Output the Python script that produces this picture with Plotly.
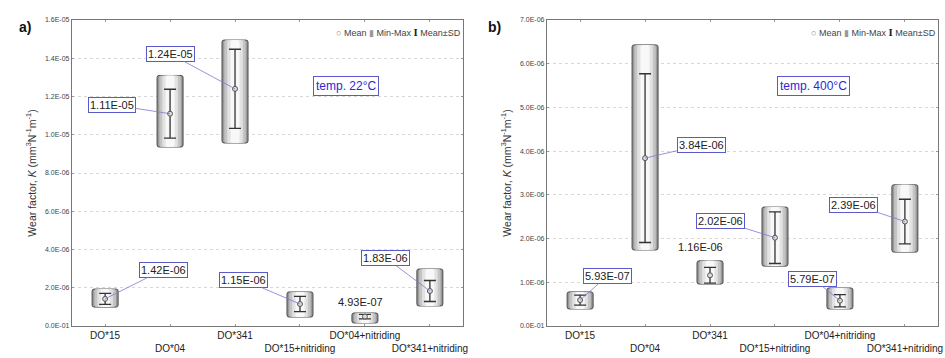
import plotly.graph_objects as go

categories = ["DO*15", "DO*04", "DO*341", "DO*15+nitriding", "DO*04+nitriding", "DO*341+nitriding"]

# Panel a) temp 22 C
mean_22 = [1.42e-6, 1.11e-5, 1.24e-5, 1.15e-6, 4.93e-7, 1.83e-6]
sd_22 = [0.29e-6, 1.28e-6, 2.07e-6, 0.40e-6, 0.12e-6, 0.55e-6]
min_22 = [0.99e-6, 9.36e-6, 9.57e-6, 0.47e-6, 0.16e-6, 1.05e-6]
max_22 = [1.93e-6, 13.1e-6, 14.95e-6, 1.78e-6, 0.68e-6, 2.98e-6]
labels_22 = ["1.42E-06", "1.11E-05", "1.24E-05", "1.15E-06", "4.93E-07", "1.83E-06"]
boxed_22 = [True, True, True, True, False, True]

# Panel b) temp 400 C
mean_400 = [5.93e-7, 3.84e-6, 1.16e-6, 2.02e-6, 5.79e-7, 2.39e-6]
sd_400 = [0.115e-6, 1.93e-6, 0.18e-6, 0.59e-6, 0.14e-6, 0.51e-6]
min_400 = [0.39e-6, 1.74e-6, 0.96e-6, 1.37e-6, 0.39e-6, 1.69e-6]
max_400 = [0.78e-6, 6.43e-6, 1.49e-6, 2.72e-6, 0.87e-6, 3.23e-6]
labels_400 = ["5.93E-07", "3.84E-06", "1.16E-06", "2.02E-06", "5.79E-07", "2.39E-06"]
boxed_400 = [True, True, False, True, True, True]

yticks_22 = [0, 2e-6, 4e-6, 6e-6, 8e-6, 1e-5, 1.2e-5, 1.4e-5, 1.6e-5]
yticktext_22 = ["0.0E-01", "2.0E-06", "4.0E-06", "6.0E-06", "8.0E-06", "1.0E-05", "1.2E-05", "1.4E-05", "1.6E-05"]
yticks_400 = [0, 1e-6, 2e-6, 3e-6, 4e-6, 5e-6, 6e-6, 7e-6]
yticktext_400 = ["0.0E-01", "1.0E-06", "2.0E-06", "3.0E-06", "4.0E-06", "5.0E-06", "6.0E-06", "7.0E-06"]

# label offsets (pixels) relative to mean point
off_22 = [(58, -29), (-58, -9), (-65, -35), (-56, -24), (-4, -15), (-44, -33)]
off_400 = [(27, -24), (56, -13), (-10, -28), (-54, -17), (-27, -22), (-51, -17)]

FONT = "Liberation Sans, Arial, sans-serif"
fig = go.Figure()


def add_panel(fig, n, means, sds, mins, maxs, labels, boxed, offs):
    xa = "x" if n == 1 else "x%d" % n
    ya = "y" if n == 1 else "y%d" % n
    heights = [mx - mn for mx, mn in zip(maxs, mins)]
    layers = [(0.40, "#9a9a9a", 1.0), (0.33, "#c4c4c4", 0), (0.24, "#e2e2e2", 0), (0.14, "#f8f8f8", 0)]
    for w, col, lw in layers:
        fig.add_trace(go.Bar(
            x=categories, y=heights, base=mins, width=w, xaxis=xa, yaxis=ya,
            marker=dict(color=col, line=dict(color="#4a4a4a", width=lw), cornerradius=2),
            showlegend=False, hoverinfo="skip"))
    fig.add_trace(go.Scatter(
        x=categories, y=means, mode="markers", xaxis=xa, yaxis=ya,
        marker=dict(symbol="circle", size=5, color="#dcdcdc", line=dict(color="#555", width=1)),
        error_y=dict(type="data", array=sds, visible=True, color="#333", thickness=1.3, width=6),
        showlegend=False))
    for c, m, lab, b, (ox, oy) in zip(categories, means, labels, boxed, offs):
        if b:
            fig.add_annotation(x=c, y=m, xref=xa, yref=ya, text=lab, showarrow=True,
                               ax=ox, ay=oy, arrowhead=0, arrowwidth=0.8, arrowcolor="#7a7ad0",
                               bordercolor="#5a5ac8", borderwidth=1, borderpad=1, bgcolor="white",
                               font=dict(family=FONT, size=11, color="#222"))
        else:
            fig.add_annotation(x=c, y=m, xref=xa, yref=ya, text=lab, showarrow=False,
                               xshift=ox, yshift=-oy,
                               font=dict(family=FONT, size=11, color="#222"))


add_panel(fig, 1, mean_22, sd_22, min_22, max_22, labels_22, boxed_22, off_22)
add_panel(fig, 2, mean_400, sd_400, min_400, max_400, labels_400, boxed_400, off_400)

ticktext_x = [c if i % 2 == 0 else "<br>" + c for i, c in enumerate(categories)]

xcommon = dict(type="category", range=[-0.51, 5.51], tickvals=categories, ticktext=ticktext_x,
               tickangle=0, automargin=False,
               showline=True, linecolor="#777", linewidth=1.2, mirror="ticks", ticks="inside",
               ticklen=2, tickcolor="#999", showgrid=False,
               tickfont=dict(family=FONT, size=10, color="#222"))
ycommon = dict(showline=True, linecolor="#777", linewidth=1.2, mirror="ticks", ticks="inside",
               ticklen=2, tickcolor="#999", showgrid=True, gridcolor="#d8d8d8", griddash="dot",
               zeroline=False, automargin=False, tickfont=dict(family=FONT, size=7, color="#444"),
               title=dict(text="Wear factor, <i>K</i> (mm<sup>3</sup>N<sup>-1</sup>m<sup>-1</sup>)",
                          font=dict(family=FONT, size=10.5, color="#333"), standoff=6))

fig.update_layout(
    width=945, height=358, margin=dict(l=0, r=0, t=20, b=32),
    paper_bgcolor="white", plot_bgcolor="white", barmode="overlay",
    xaxis=dict(domain=[72 / 945, 463 / 945], anchor="y", **xcommon),
    xaxis2=dict(domain=[547 / 945, 938 / 945], anchor="y2", **xcommon),
    yaxis=dict(domain=[0, 1], anchor="x", range=[0, 1.6e-5], tickvals=yticks_22,
               ticktext=yticktext_22, **ycommon),
    yaxis2=dict(domain=[0, 1], anchor="x2", range=[0, 7e-6], tickvals=yticks_400,
                ticktext=yticktext_400, **ycommon),
)

legend_text = ('<span style="color:#888">○</span> Mean '
               '<span style="color:#999">▮</span> Min-Max '
               '<span style="font-family:DejaVu Serif;font-weight:bold;color:#222">I</span> Mean±SD')
for xr, yr in (("x domain", "y domain"), ("x2 domain", "y2 domain")):
    fig.add_annotation(x=1.0, y=0.958, xref=xr, yref=yr, xanchor="right", yanchor="middle",
                       text=legend_text, showarrow=False,
                       font=dict(family=FONT, size=9, color="#444"))

fig.add_annotation(x=0.785, y=0.817, xref="x domain", yref="y domain", text="temp. 22°C",
                   showarrow=False, bordercolor="#5a5ac8", borderwidth=1, borderpad=2,
                   bgcolor="white", font=dict(family=FONT, size=12, color="#2a2ad0"))
fig.add_annotation(x=0.775, y=0.817, xref="x2 domain", yref="y2 domain", text="temp. 400°C",
                   showarrow=False, bordercolor="#5a5ac8", borderwidth=1, borderpad=2,
                   bgcolor="white", font=dict(family=FONT, size=12, color="#2a2ad0"))

fig.add_annotation(x=17 / 945, y=1.01, xref="paper", yref="paper", text="<b>a)</b>",
                   showarrow=False, font=dict(family=FONT, size=14, color="#111"))
fig.add_annotation(x=494 / 945, y=1.01, xref="paper", yref="paper", text="<b>b)</b>",
                   showarrow=False, font=dict(family=FONT, size=14, color="#111"))

fig.write_html("out.html", config={"displayModeBar": False},
               post_script="document.body.style.margin='0';document.body.style.overflow='hidden';")
